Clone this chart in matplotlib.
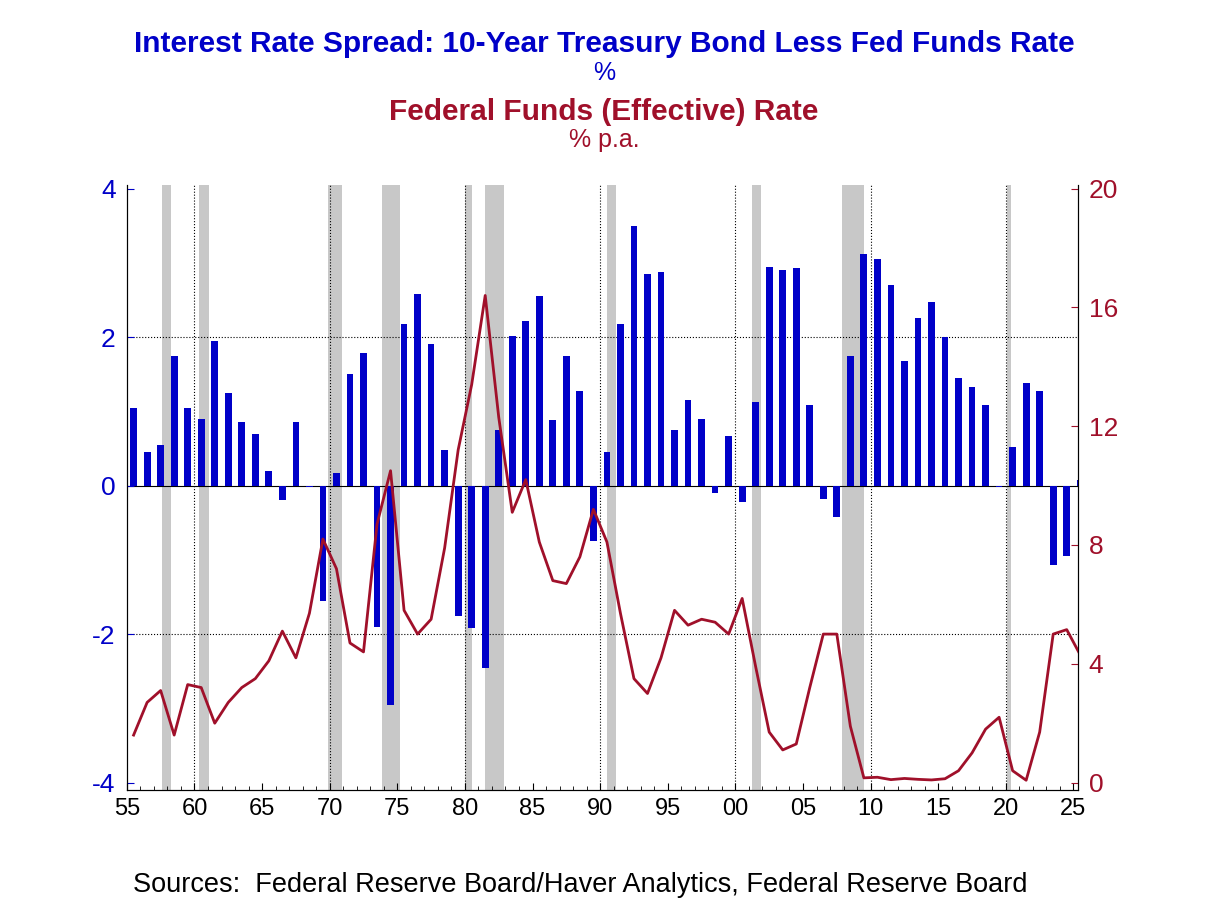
import matplotlib.pyplot as plt
import numpy as np

plt.rcParams['font.family'] = ['Liberation Sans', 'DejaVu Sans']

years = np.arange(1955, 2026)
spread = [1.05, 0.45, 0.55, 1.75, 1.05, 0.9, 1.95, 1.25, 0.85, 0.7,
          0.2, -0.2, 0.85, -0.02, -1.55, 0.17, 1.5, 1.78, -1.9, -2.95,
          2.18, 2.58, 1.9, 0.48, -1.75, -1.92, -2.45, 0.75, 2.02, 2.22,
          2.55, 0.88, 1.75, 1.28, -0.75, 0.45, 2.18, 3.5, 2.85, 2.88,
          0.75, 1.15, 0.9, -0.1, 0.67, -0.22, 1.12, 2.95, 2.9, 2.93,
          1.08, -0.18, -0.42, 1.75, 3.12, 3.05, 2.7, 1.68, 2.25, 2.47,
          2.0, 1.45, 1.33, 1.08, -0.02, 0.52, 1.38, 1.28, -1.07, -0.95,
          0.08]
fedfunds = [1.6, 2.7, 3.1, 1.6, 3.3, 3.2, 2.0, 2.7, 3.2, 3.5,
            4.1, 5.1, 4.2, 5.7, 8.2, 7.2, 4.7, 4.4, 8.7, 10.5,
            5.8, 5.0, 5.5, 7.9, 11.2, 13.4, 16.4, 12.3, 9.1, 10.2,
            8.1, 6.8, 6.7, 7.6, 9.2, 8.1, 5.7, 3.5, 3.0, 4.2,
            5.8, 5.3, 5.5, 5.4, 5.0, 6.2, 3.9, 1.7, 1.1, 1.3,
            3.2, 5.0, 5.0, 1.9, 0.16, 0.18, 0.1, 0.14, 0.11, 0.09,
            0.13, 0.4, 1.0, 1.8, 2.2, 0.4, 0.08, 1.7, 5.0, 5.15,
            4.3]
recessions = [(1957.6, 1958.3), (1960.3, 1961.1), (1969.9, 1970.9),
              (1973.9, 1975.2), (1980.0, 1980.5), (1981.5, 1982.9),
              (1990.5, 1991.2), (2001.2, 2001.9), (2007.9, 2009.5),
              (2020.1, 2020.35)]

blue = '#0000c8'
red = '#a0102a'

fig = plt.figure(figsize=(12.08, 9.06), dpi=100)
ax = fig.add_axes([0.105, 0.128, 0.787, 0.668])
for a, b in recessions:
    ax.axvspan(a, b, color='#c8c8c8', lw=0, zorder=0)
for x in [1960, 1970, 1980, 1990, 2000, 2010, 2020]:
    ax.axvline(x, color='black', ls=':', lw=0.8, zorder=1)
for y in [2, -2]:
    ax.axhline(y, color='black', ls=':', lw=0.8, zorder=1)
ax.axhline(0, color='black', lw=0.8, zorder=1)
ax.bar(years + 0.5, spread, width=0.5, color=blue, zorder=2)
ax.set_xlim(1955, 2025.3)
ax.set_ylim(-4.1, 4.05)
ax.set_yticks([-4, -2, 0, 2, 4])
ax.set_yticklabels(['-4', '-2', '0', '2', '4'])
xt = np.arange(1955, 2026, 5)
ax.set_xticks(xt)
ax.set_xticklabels([f'{x % 100:02d}' for x in xt])
ax.tick_params(axis='y', colors=blue, labelsize=19, direction='in', length=5, pad=8)
ax.tick_params(axis='x', labelsize=17, direction='in', length=5, pad=6)
ax.set_xticks(np.arange(1955, 2026), minor=True)
ax.tick_params(axis='x', which='minor', direction='in', length=3)
ax.spines['top'].set_visible(False)

ax2 = ax.twinx()
ax2.plot(years + 0.5, fedfunds, color=red, lw=2, zorder=3)
ax2.set_ylim(-0.25, 20.125)
ax2.set_yticks([0, 4, 8, 12, 16, 20])
ax2.tick_params(axis='y', colors=red, labelsize=19, direction='in', length=5, pad=8)
ax2.set_xlim(1955, 2025.3)
ax2.spines['top'].set_visible(False)

fig.text(0.5, 0.951, 'Interest Rate Spread: 10-Year Treasury Bond Less Fed Funds Rate',
         ha='center', va='center', color=blue, fontsize=21.5, fontweight='bold')
fig.text(0.5, 0.919, '%', ha='center', va='center', color=blue, fontsize=18)
fig.text(0.5, 0.876, 'Federal Funds (Effective) Rate', ha='center', va='center',
         color=red, fontsize=21.5, fontweight='bold')
fig.text(0.5, 0.845, '% p.a.', ha='center', va='center', color=red, fontsize=18)
fig.text(0.11, 0.023, 'Sources:  Federal Reserve Board/Haver Analytics, Federal Reserve Board',
         ha='left', va='center', fontsize=19.5)

fig.savefig('out.png', dpi=100)
